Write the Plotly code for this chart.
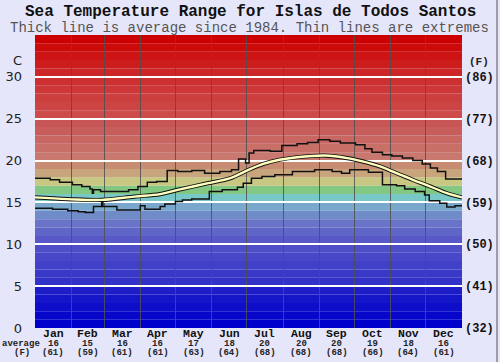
import plotly.graph_objects as go

# ---------------- data ----------------
months = ["Jan", "Feb", "Mar", "Apr", "May", "Jun", "Jul", "Aug", "Sep", "Oct", "Nov", "Dec"]
month_avg_c = [16, 15, 16, 16, 17, 18, 20, 20, 20, 19, 18, 16]
month_avg_f = [61, 59, 61, 61, 63, 64, 68, 68, 68, 66, 64, 61]
month_starts = [0, 31, 59, 90, 120, 151, 181, 212, 243, 273, 304, 334, 365]

c_ticks = [0, 5, 10, 15, 20, 25, 30]
f_tick_labels = ["(32)", "(41)", "(50)", "(59)", "(68)", "(77)", "(86)"]

avg_days = [0, 28, 57, 85, 107, 122, 148, 167, 181, 195, 209, 224, 248, 267, 280, 295, 309, 323, 338, 352, 365]
avg_temp = [15.6, 15.4, 15.3, 15.7, 16.0, 16.5, 17.3, 17.9, 18.8, 19.6, 20.1, 20.4, 20.6, 20.3, 19.9, 19.3, 18.5, 17.7, 16.9, 16.1, 15.6]

max_days = [0, 13, 21, 32, 40, 47, 49, 50, 56, 80, 88, 96, 104, 113, 122, 134, 145, 158, 168, 174, 180,
            183, 187, 201, 211, 224, 233, 242, 252, 261, 274, 282, 288, 297, 305, 314, 323, 331, 338, 344, 351, 365]
max_temp = [17.9, 17.7, 17.4, 17.1, 16.9, 16.6, 16.1, 16.5, 16.3, 16.5, 16.9, 17.4, 17.5, 18.8, 18.7, 18.8, 18.5, 18.7, 18.9, 20.2, 19.7,
            20.9, 21.2, 21.1, 21.8, 22.0, 22.15, 22.5, 22.3, 22.1, 21.9, 21.4, 21.0, 20.7, 20.55, 20.3, 20.0, 19.6, 19.1, 18.7, 17.8, 17.8]

min_days = [0, 15, 28, 37, 43, 50, 57, 58, 70, 90, 94, 107, 111, 120, 126, 134, 149, 160, 173, 178, 185, 194,
            205, 220, 239, 254, 262, 269, 285, 297, 309, 316, 325, 333, 337, 346, 352, 359, 365]
min_temp = [14.3, 14.2, 14.0, 13.9, 13.8, 14.5, 15.0, 14.5, 14.1, 14.6, 14.2, 14.5, 14.8, 15.1, 15.3, 15.4, 16.3, 16.5, 16.8, 17.3, 17.9, 18.1,
            18.3, 18.7, 18.9, 18.7, 18.5, 18.9, 18.6, 17.1, 17.0, 16.6, 16.3, 15.9, 15.2, 14.9, 14.45, 14.6, 14.6]

# ---------------- styles ----------------
W, H = 500, 362
L, R, T, B = 35, 38, 35, 34
PW, PH = W - L - R, H - T - B
YMAX = 35
MONO = "Liberation Mono, Courier New, monospace"
SANS = "DejaVu Sans, Verdana, sans-serif"
BG = "#E6E6FA"

# colour anchors for 1-degree background bands
anchors = [
    (0, (0, 0, 205)), (4, (28, 28, 200)), (5, (50, 50, 200)), (9, (78, 78, 200)),
    (10, (88, 88, 200)), (12, (105, 115, 200)), (13, (112, 140, 200)), (14, (122, 168, 205)),
    (15, (120, 200, 200)), (16, (130, 200, 130)), (17, (200, 200, 130)), (18, (200, 165, 125)),
    (19, (200, 140, 115)), (20, (200, 120, 110)), (24, (200, 85, 85)), (25, (205, 75, 75)),
    (29, (205, 48, 48)), (30, (205, 38, 38)), (34, (205, 0, 0)),
]


def band_color(t):
    for (t0, c0), (t1, c1) in zip(anchors[:-1], anchors[1:]):
        if t0 <= t <= t1:
            f = 0 if t1 == t0 else (t - t0) / (t1 - t0)
            c = [round(a + (b - a) * f) for a, b in zip(c0, c1)]
            return "rgb(%d,%d,%d)" % tuple(c)
    return "rgb(205,0,0)"


def px_to_xpaper(px):
    return (px - L) / PW


def px_to_ypaper(py):
    return (H - B - py) / PH


fig = go.Figure()

shapes = []
for t in range(YMAX):
    shapes.append(dict(type="rect", xref="paper", yref="y", x0=0, x1=1, y0=t, y1=t + 1,
                       fillcolor=band_color(t), line=dict(width=0), layer="below"))
# right border line
shapes.append(dict(type="line", xref="paper", yref="paper",
                   x0=px_to_xpaper(497), x1=px_to_xpaper(497),
                   y0=px_to_ypaper(H), y1=px_to_ypaper(0),
                   line=dict(color="#555555", width=1)))

# max / min extremes
fig.add_trace(go.Scatter(x=max_days, y=max_temp, mode="lines", line=dict(color="#111111", width=1.5, shape="hv"),
                         hoverinfo="skip", showlegend=False))
fig.add_trace(go.Scatter(x=min_days, y=min_temp, mode="lines", line=dict(color="#111111", width=1.5, shape="hv"),
                         hoverinfo="skip", showlegend=False))
# average (outlined)
fig.add_trace(go.Scatter(x=avg_days, y=avg_temp, mode="lines", line=dict(color="#111111", width=4.2, shape="spline"),
                         hoverinfo="skip", showlegend=False))
fig.add_trace(go.Scatter(x=avg_days, y=avg_temp, mode="lines", line=dict(color="#FFFFC0", width=2.4, shape="spline"),
                         hoverinfo="skip", showlegend=False))
# invisible trace so the right-hand (F) axis is drawn
fig.add_trace(go.Scatter(x=avg_days, y=avg_temp, yaxis="y2", mode="lines", line=dict(width=0),
                         opacity=0, hoverinfo="skip", showlegend=False))

annotations = []
# titles
annotations.append(dict(text="<b>Sea Temperature Range for Islas de Todos Santos</b>", xref="paper", yref="paper",
                        x=px_to_xpaper(250), y=px_to_ypaper(12), showarrow=False, xanchor="center", yanchor="middle",
                        font=dict(family=MONO, size=16, color="#111111")))
annotations.append(dict(text="Thick line is average since 1984. Thin lines are extremes", xref="paper", yref="paper",
                        x=px_to_xpaper(249), y=px_to_ypaper(28), showarrow=False, xanchor="center", yanchor="middle",
                        font=dict(family=MONO, size=14, color="#555555")))
# unit labels
annotations.append(dict(text="C", xref="paper", yref="paper", x=px_to_xpaper(17), y=px_to_ypaper(60),
                        showarrow=False, xanchor="center", yanchor="middle",
                        font=dict(family=SANS, size=13, color="#222222")))
annotations.append(dict(text="<b>(F)</b>", xref="paper", yref="paper", x=px_to_xpaper(479), y=px_to_ypaper(62),
                        showarrow=False, xanchor="center", yanchor="middle",
                        font=dict(family=MONO, size=11, color="#222222")))
annotations.append(dict(text="<b>average</b>", xref="paper", yref="paper", x=px_to_xpaper(21), y=px_to_ypaper(344),
                        showarrow=False, xanchor="center", yanchor="middle",
                        font=dict(family=MONO, size=9, color="#222222")))
annotations.append(dict(text="<b>(F)</b>", xref="paper", yref="paper", x=px_to_xpaper(22), y=px_to_ypaper(353),
                        showarrow=False, xanchor="center", yanchor="middle",
                        font=dict(family=MONO, size=9, color="#222222")))

mids = [(a + b) / 2 for a, b in zip(month_starts[:-1], month_starts[1:])]
for m, c, f, xm in zip(months, month_avg_c, month_avg_f, mids):
    annotations.append(dict(text="<b>%s</b>" % m, xref="x", yref="paper", x=xm, y=px_to_ypaper(333),
                            showarrow=False, xanchor="center", yanchor="middle",
                            font=dict(family=MONO, size=11.5, color="#111111")))
    annotations.append(dict(text="<b>%d</b>" % c, xref="x", yref="paper", x=xm, y=px_to_ypaper(344),
                            showarrow=False, xanchor="center", yanchor="middle",
                            font=dict(family=MONO, size=9, color="#222222")))
    annotations.append(dict(text="<b>(%d)</b>" % f, xref="x", yref="paper", x=xm, y=px_to_ypaper(353),
                            showarrow=False, xanchor="center", yanchor="middle",
                            font=dict(family=MONO, size=9, color="#222222")))

fig.update_layout(
    width=W, height=H,
    margin=dict(l=L, r=R, t=T, b=B, pad=0, autoexpand=False),
    paper_bgcolor=BG, plot_bgcolor=BG,
    showlegend=False,
    shapes=shapes,
    annotations=annotations,
    xaxis=dict(range=[0, 365], tickvals=month_starts[1:-1], showticklabels=False, ticks="",
               showgrid=True, gridcolor="rgba(80,80,80,0.85)", gridwidth=1, zeroline=False, showline=False,
               fixedrange=True, automargin=False),
    yaxis=dict(range=[0, YMAX], tickvals=c_ticks, ticktext=[str(v) for v in c_ticks], ticks="",
               ticklabelstandoff=12, automargin=False,
               tickfont=dict(family=SANS, size=13, color="#222222"),
               showgrid=True, gridcolor="white", gridwidth=2, zeroline=False, showline=False,
               fixedrange=True),
    yaxis2=dict(range=[0, YMAX], overlaying="y", side="right", tickvals=c_ticks, ticktext=f_tick_labels,
                ticks="", ticklabelstandoff=2, automargin=False,
                tickfont=dict(family=MONO, size=12, color="#111111", weight="bold"),
                showgrid=False, zeroline=False, showline=False, fixedrange=True),
)

fig.write_html("out.html", config={"displayModeBar": False},
               post_script="document.body.style.margin='0';document.body.style.overflow='hidden';")
